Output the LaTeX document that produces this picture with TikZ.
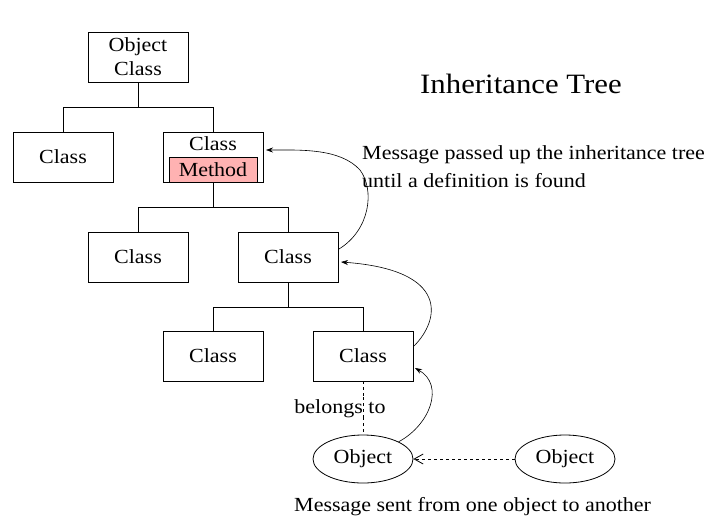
\documentclass[tikz,border=0pt]{standalone}
\usepackage{fontspec}
\setmainfont{Liberation Serif}[FakeStretch=1.1]
\usetikzlibrary{arrows.meta,shapes.geometric}
\begin{document}
\begin{tikzpicture}[x=1pt,y=-1pt,
  cls/.style={draw,line width=0.8pt,minimum width=100pt,minimum height=50pt,inner sep=0pt,font=\fontsize{20}{22}\selectfont},
  obj/.style={draw,ellipse,line width=0.8pt,minimum width=100pt,minimum height=48pt,inner sep=0pt,font=\fontsize{20}{22}\selectfont},
  tree/.style={line width=0.8pt},
  msg/.style={line width=0.6pt,-{Stealth[length=7pt,width=5pt]}},
  lbl/.style={font=\fontsize{20}{22}\selectfont,inner sep=0pt}]
\useasboundingbox (0,0) rectangle (728,528);
\node[cls,align=center,font=\fontsize{20}{24}\selectfont] (oc) at (138,57) {Object\\Class};
\node[cls] (c1) at (63,157) {Class};
\node[cls] (cm) at (213,157) {};
\node[font=\fontsize{20}{22}\selectfont,anchor=base] (cmt) at (213,150) {Class};
\node[draw,fill=red!30,line width=0.6pt,minimum width=88pt,minimum height=25pt,inner sep=0pt,font=\fontsize{20}{22}\selectfont] (meth) at (213,169.5) {Method};
\node[cls] (c2) at (138,257) {Class};
\node[cls] (c3) at (288,257) {Class};
\node[cls] (c4) at (213,356) {Class};
\node[cls] (c5) at (363,356) {Class};
\node[obj] (o1) at (363,459) {Object};
\node[obj] (o2) at (565,459) {Object};
% tree
\draw[tree] (oc.south) -- (138,107) -| (c1.north);
\draw[tree] (138,107) -| (cm.north);
\draw[tree] (cm.south) -- (213,207) -| (c2.north);
\draw[tree] (213,207) -| (c3.north);
\draw[tree] (c3.south) -- (288,307) -| (c4.north);
\draw[tree] (288,307) -| (c5.north);
% belongs to
\draw[dashed,line width=0.6pt] (c5.south) -- (o1.north);
\node[lbl,fill=white,inner xsep=1pt,anchor=base] (bt) at (340,413) {belongs to};
\draw[dashed,line width=0.6pt] (363,397) -- (363,419);
% message arrows
\draw[msg] (o1.north east) .. controls (430,425) and (445,385) .. (415,368);
\draw[msg] (414,346) .. controls (440,320) and (450,270) .. (341,262);
\draw[msg] (339,249) .. controls (370,230) and (375,190) .. (360,170) .. controls (340,148) and (300,150) .. (266,150);
\draw[line width=0.8pt,dash pattern=on 3pt off 3pt,-{Straight Barb[open,length=9pt,width=10pt]}] (o2.west) -- (o1.east);
% texts
\node[font=\fontsize{28}{30}\selectfont,anchor=base,inner sep=0pt] (title) at (521,93) {Inheritance Tree};
\node[lbl,align=left,anchor=base west,font=\fontsize{20}{28}\selectfont] (m1) at (362,187) {Message passed up the inheritance tree\\until a definition is found};
\node[lbl,anchor=base west] (m2) at (294,511) {Message sent from one object to another};
\end{tikzpicture}
\end{document}
